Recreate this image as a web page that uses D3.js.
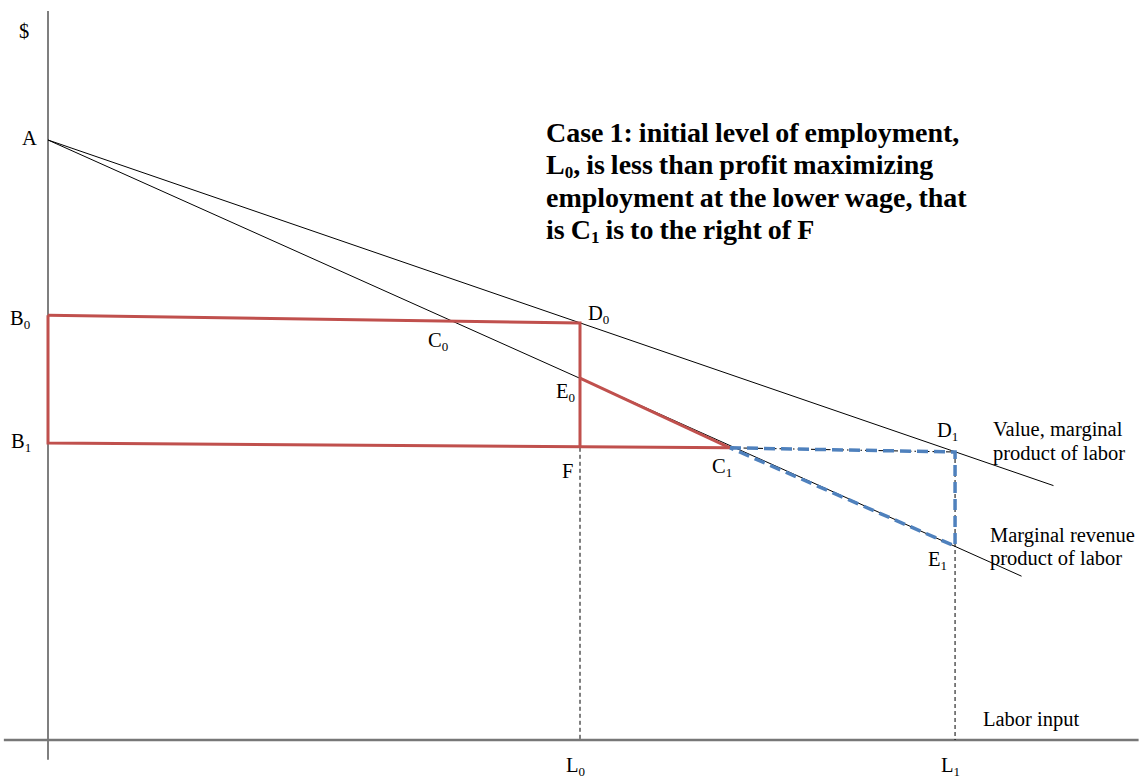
<!DOCTYPE html>
<html>
<head>
<meta charset="utf-8">
<script src="https://cdn.jsdelivr.net/npm/d3@7"></script>
<style>
  body { margin: 0; background: #fff; }
  svg text { font-family: "Liberation Serif", "Times New Roman", serif; fill: #000; }
</style>
</head>
<body>
<div id="container"></div>
<script>
// curves: [labor, $]
var vmpCurve = [[0, 10], [18.9, 4.24]];
var mrpCurve = [[0, 10], [18.3, 2.73]];

// named points
var pointNames = ['A', 'B0', 'B1', 'C0', 'D0', 'E0', 'F', 'C1', 'D1', 'E1'];
var pointX = [0, 0, 0, 7.2, 10, 10, 10, 12.82, 17.05, 17.05];
var pointY = [10, 7.08, 4.95, 6.95, 6.95, 6.03, 4.87, 4.87, 4.8, 3.23];

var xTicks = ['L0', 'L1'];
var xTickValues = [10, 17.05];

var titleLines = [
    ['Case 1: initial level of employment,'],
    ['L', '0', ', is less than profit maximizing'],
    ['employment at the lower wage, that'],
    ['is C', '1', ' is to the right of F']
];
var vmpLabel = ['Value, marginal', 'product of labor'];
var mrpLabel = ['Marginal revenue', 'product of labor'];

function drawChart(id, width, height){
    var svg = d3.select('#'+id)
        .append('svg')
        .attr('width', width)
        .attr('height', height);

    var x = d3.scaleLinear().domain([0, 20]).range([48, 1112]);
    var y = d3.scaleLinear().domain([0, 10]).range([740, 140]);

    var P = {};
    for(var i = 0; i < pointNames.length; i++){
        P[pointNames[i]] = [pointX[i], pointY[i]];
    }
    var line = d3.line().x(function(d){ return x(d[0]); }).y(function(d){ return y(d[1]); });

    // axes
    svg.append('line')
        .attr('x1', x(0)).attr('x2', x(0))
        .attr('y1', y(12.15)).attr('y2', y(-0.33))
        .attr('stroke', '#555').attr('stroke-width', 1.5);
    svg.append('line')
        .attr('x1', x(-0.83)).attr('x2', x(20.5))
        .attr('y1', y(0)).attr('y2', y(0))
        .attr('stroke', '#777').attr('stroke-width', 2.5);

    // dashed guides down to the axis
    svg.append('path').attr('d', line([P.F, [xTickValues[0], 0]]))
        .attr('fill', 'none').attr('stroke', '#000').attr('stroke-width', 1)
        .attr('stroke-dasharray', '4,3');
    svg.append('path').attr('d', line([P.D1, [xTickValues[1], 0]]))
        .attr('fill', 'none').attr('stroke', '#000').attr('stroke-width', 1)
        .attr('stroke-dasharray', '4,3');

    // curves
    svg.append('path').attr('d', line(vmpCurve))
        .attr('fill', 'none').attr('stroke', '#000').attr('stroke-width', 1);
    svg.append('path').attr('d', line(mrpCurve))
        .attr('fill', 'none').attr('stroke', '#000').attr('stroke-width', 1);

    // dash-dot line C1 -> D1
    svg.append('path').attr('d', line([P.C1, P.D1]))
        .attr('fill', 'none').attr('stroke', '#000').attr('stroke-width', 1)
        .attr('stroke-dasharray', '6,3,1.5,3');

    // red rectangles / triangle
    var red = '#c0504d';
    [[P.B0, P.D0, P.F], [P.B0, P.B1, P.C1], [P.E0, P.C1]].forEach(function(seg){
        svg.append('path').attr('d', line(seg))
            .attr('fill', 'none').attr('stroke', red).attr('stroke-width', 3)
            .attr('stroke-linejoin', 'miter');
    });

    // blue dashed triangle
    svg.append('path').attr('d', line([P.C1, P.D1, P.E1, P.C1]))
        .attr('fill', 'none').attr('stroke', '#4f81bd').attr('stroke-width', 3.5)
        .attr('stroke-dasharray', '11,6');

    // point labels
    var fs = 20.5;
    function label(tx, ty, main, sub){
        var t = svg.append('text').attr('x', tx).attr('y', ty).attr('font-size', fs);
        t.append('tspan').text(main);
        if(sub){
            t.append('tspan').attr('font-size', 13).attr('dy', 4).text(sub);
        }
    }
    var off = {
        A:  [-26, 5],  B0: [-38, 10], B1: [-37, 5],
        C0: [-3, 24],  D0: [8, -3],   E0: [-24, 20],
        F:  [-18, 30], C1: [-18, 25], D1: [-18, -15], E1: [-27, 20]
    };
    pointNames.forEach(function(n){
        var o = off[n];
        label(x(P[n][0]) + o[0], y(P[n][1]) + o[1], n.charAt(0), n.substring(1));
    });
    label(x(0) - 29, 38, '$');

    // x tick labels
    for(i = 0; i < xTicks.length; i++){
        label(x(xTickValues[i]) - 14, 772, xTicks[i].charAt(0), xTicks[i].substring(1));
    }
    svg.append('text').attr('x', 983).attr('y', 726).attr('font-size', fs).text('Labor input');

    // curve labels
    vmpLabel.forEach(function(s, k){
        svg.append('text').attr('x', 993).attr('y', 436 + k*24).attr('font-size', fs).text(s);
    });
    mrpLabel.forEach(function(s, k){
        svg.append('text').attr('x', 990).attr('y', 542 + k*23).attr('font-size', fs).text(s);
    });

    // title
    titleLines.forEach(function(parts, k){
        var t = svg.append('text')
            .attr('x', 546).attr('y', 142 + k*32.3)
            .attr('font-size', 28).attr('font-weight', 'bold')
            .attr('word-spacing', -1);
        parts.forEach(function(p, j){
            if(j == 1){
                t.append('tspan').attr('font-size', 17).attr('dy', 4).text(p);
            }else if(j == 2){
                t.append('tspan').attr('dy', -4).text(p);
            }else{
                t.append('tspan').text(p);
            }
        });
    });
}
drawChart('container', 1145, 780);
</script>
</body>
</html>
